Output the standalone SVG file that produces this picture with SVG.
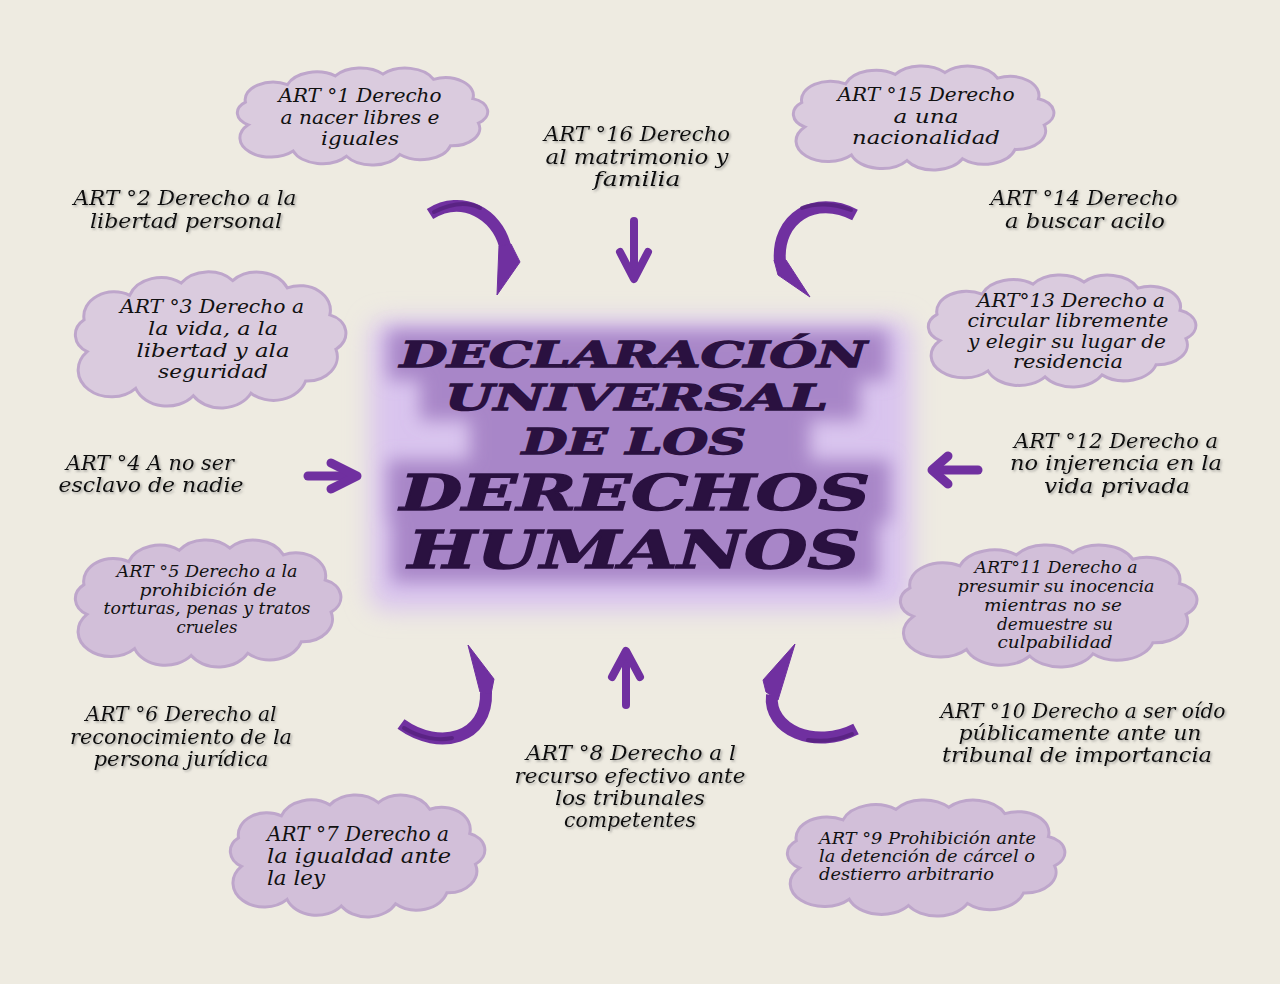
<svg xmlns="http://www.w3.org/2000/svg" xmlns:xlink="http://www.w3.org/1999/xlink" width="1280" height="984" viewBox="0 0 1280 984">
<style>
  .bg { fill: #eeebe1; }
  .cloud { fill: #dacbde; stroke: #bea6cb; stroke-width: 3; }
  .cloud.deep { fill: #d2bfd9; }
  .lbl { font-family: "DejaVu Serif", "Liberation Serif", serif; font-style: italic; font-size: 20px; fill: #111; text-anchor: middle; }
  .lbl.sm { font-size: 17px; }
  .lbl.md { font-size: 18.5px; }
  .lbl.start { text-anchor: start; }
  .shadow { filter: url(#txtShadow); }
  .title { font-family: "DejaVu Serif", "Liberation Serif", serif; font-style: italic; font-weight: bold; fill: #2a1140; stroke: #2a1140; stroke-width: 1.4; }
  .arr { fill: none; stroke: #7030a0; stroke-linecap: round; stroke-linejoin: round; }
  .band { fill: none; stroke: #7030a0; stroke-width: 12; stroke-linecap: butt; }
  .stripe { fill: none; stroke: #55207d; stroke-width: 4; stroke-linecap: round; opacity: 0.8; }
  .head { fill: #7030a0; stroke: #7030a0; stroke-width: 1; stroke-linejoin: round; }
</style>
<defs>
  <path id="cloud" vector-effect="non-scaling-stroke" d="M 20,66 A 16,16 0 0 1 18,40 A 20,20 0 0 1 48,20 A 22,22 0 0 1 82,10 A 22,22 0 0 1 116,8 A 22,22 0 0 1 152,14 A 20,20 0 0 1 180,36 A 16,16 0 0 1 184,64 A 20,20 0 0 1 164,90 A 22,22 0 0 1 128,100 A 22,22 0 0 1 90,102 A 22,22 0 0 1 52,96 A 20,20 0 0 1 20,66 Z"/>
  <filter id="txtShadow" x="-10%" y="-30%" width="120%" height="160%">
    <feDropShadow dx="1.5" dy="1.5" stdDeviation="1" flood-color="#666" flood-opacity="0.55"/>
  </filter>
  <filter id="blurBig" x="-20%" y="-20%" width="140%" height="140%">
    <feGaussianBlur stdDeviation="12"/>
  </filter>
  <filter id="blurMid" x="-20%" y="-30%" width="140%" height="160%">
    <feGaussianBlur stdDeviation="9"/>
  </filter>
</defs>

<rect class="bg" x="0" y="0" width="1280" height="984"/>

<g id="node-title">
  <rect x="370" y="320" width="542" height="290" rx="16" fill="#d9c4ee" filter="url(#blurBig)"/>
  <g fill="#a886c8" filter="url(#blurMid)">
    <rect x="388" y="330" width="500" height="50"/>
    <rect x="420" y="372" width="440" height="48"/>
    <rect x="470" y="414" width="340" height="50"/>
    <rect x="388" y="460" width="502" height="62"/>
    <rect x="392" y="516" width="486" height="66"/>
  </g>
  <text class="title" x="400" y="367" font-size="35" textLength="467" lengthAdjust="spacingAndGlyphs">DECLARACIÓN</text>
  <text class="title" x="445" y="410" font-size="35" textLength="383" lengthAdjust="spacingAndGlyphs">UNIVERSAL</text>
  <text class="title" x="522" y="454" font-size="35" textLength="224" lengthAdjust="spacingAndGlyphs">DE LOS</text>
  <text class="title" x="400" y="510" font-size="48" textLength="470" lengthAdjust="spacingAndGlyphs">DERECHOS</text>
  <text class="title" x="408" y="568" font-size="52" textLength="452" lengthAdjust="spacingAndGlyphs">HUMANOS</text>
</g>

<g id="connectors">
  <line class="arr" x1="634" y1="221" x2="634" y2="274" stroke-width="8" stroke-linecap="butt"/>
  <polyline class="arr" points="620,252 634,279 648,252" stroke-width="8"/>
  <line class="arr" x1="626" y1="705" x2="626" y2="656" stroke-width="8" stroke-linecap="butt"/>
  <polyline class="arr" points="612,677 626,651 640,677" stroke-width="8"/>
  <line class="arr" x1="308" y1="476" x2="352" y2="476" stroke-width="9" stroke-linecap="butt"/>
  <polyline class="arr" points="331,463 357,476 331,489" stroke-width="9"/>
  <line class="arr" x1="978" y1="470" x2="936" y2="470" stroke-width="9" stroke-linecap="butt"/>
  <polyline class="arr" points="948,456 932,470 948,484" stroke-width="9"/>

  <path class="band" d="M 430,214 C 462,194 497,214 505,246"/>
  <path class="stripe" d="M 434,212 C 452,203 468,202 480,208"/>
  <polygon class="head" points="499,246 511,244 520,262 497,295"/>

  <path class="band" d="M 855,215 C 815,194 776,218 780,262"/>
  <path class="stripe" d="M 851,210 C 833,203 815,203 802,208"/>
  <polygon class="head" points="774,260 786,260 810,297 778,275"/>

  <path class="band" d="M 401,724 C 440,752 488,738 486,692"/>
  <path class="stripe" d="M 404,728 C 420,738 438,741 452,738"/>
  <polygon class="head" points="468,645 494,679 491,694 480,692"/>

  <path class="band" d="M 856,729 C 815,750 768,730 772,695"/>
  <path class="stripe" d="M 852,734 C 838,740 822,742 808,740"/>
  <polygon class="head" points="795,644 778,700 766,692 763,680"/>
</g>

<g id="node-art1">
  <use href="#cloud" class="cloud" transform="translate(237,68) scale(1.404,0.874) translate(-12,-1)"/>
  <text class="lbl md" x="360" y="102" textLength="163" lengthAdjust="spacingAndGlyphs">ART °1 Derecho</text>
  <text class="lbl md" x="360" y="124" textLength="159" lengthAdjust="spacingAndGlyphs">a nacer libres e</text>
  <text class="lbl md" x="360" y="145" textLength="78" lengthAdjust="spacingAndGlyphs">iguales</text>
</g>

<g id="node-art16" class="shadow">
  <text class="lbl" x="637" y="141" textLength="186" lengthAdjust="spacingAndGlyphs">ART °16 Derecho</text>
  <text class="lbl" x="637" y="164" textLength="183" lengthAdjust="spacingAndGlyphs">al matrimonio y</text>
  <text class="lbl" x="637" y="186" textLength="87" lengthAdjust="spacingAndGlyphs">familia</text>
</g>

<g id="node-art15">
  <use href="#cloud" class="cloud" transform="translate(793,66) scale(1.461,0.937) translate(-12,-1)"/>
  <text class="lbl md" x="926" y="101" textLength="177" lengthAdjust="spacingAndGlyphs">ART °15 Derecho</text>
  <text class="lbl md" x="926" y="123" textLength="65" lengthAdjust="spacingAndGlyphs">a una</text>
  <text class="lbl md" x="926" y="144" textLength="148" lengthAdjust="spacingAndGlyphs">nacionalidad</text>
</g>

<g id="node-art2" class="shadow">
  <text class="lbl" x="185" y="205" textLength="223" lengthAdjust="spacingAndGlyphs">ART °2 Derecho a la</text>
  <text class="lbl" x="186" y="228" textLength="192" lengthAdjust="spacingAndGlyphs">libertad personal</text>
</g>

<g id="node-art14" class="shadow">
  <text class="lbl" x="1084" y="205" textLength="187" lengthAdjust="spacingAndGlyphs">ART °14 Derecho</text>
  <text class="lbl" x="1085" y="228" textLength="160" lengthAdjust="spacingAndGlyphs">a buscar acilo</text>
</g>

<g id="node-art3">
  <use href="#cloud" class="cloud" transform="translate(75,272) scale(1.517,1.225) translate(-12,-1)"/>
  <text class="lbl md" x="212" y="313" textLength="184" lengthAdjust="spacingAndGlyphs">ART °3 Derecho a</text>
  <text class="lbl md" x="213" y="335" textLength="130" lengthAdjust="spacingAndGlyphs">la vida, a la</text>
  <text class="lbl md" x="213" y="357" textLength="153" lengthAdjust="spacingAndGlyphs">libertad y ala</text>
  <text class="lbl md" x="213" y="378" textLength="110" lengthAdjust="spacingAndGlyphs">seguridad</text>
</g>

<g id="node-art13">
  <use href="#cloud" class="cloud" transform="translate(928,275) scale(1.5,1.009) translate(-12,-1)"/>
  <text class="lbl md" x="1071" y="307" textLength="188" lengthAdjust="spacingAndGlyphs">ART°13 Derecho a</text>
  <text class="lbl md" x="1068" y="327" textLength="201" lengthAdjust="spacingAndGlyphs">circular libremente</text>
  <text class="lbl md" x="1067" y="348" textLength="198" lengthAdjust="spacingAndGlyphs">y elegir su lugar de</text>
  <text class="lbl md" x="1068" y="368" textLength="110" lengthAdjust="spacingAndGlyphs">residencia</text>
</g>

<g id="node-art12" class="shadow">
  <text class="lbl" x="1116" y="448" textLength="204" lengthAdjust="spacingAndGlyphs">ART °12 Derecho a</text>
  <text class="lbl" x="1116" y="470" textLength="212" lengthAdjust="spacingAndGlyphs">no injerencia en la</text>
  <text class="lbl" x="1117" y="493" textLength="146" lengthAdjust="spacingAndGlyphs">vida privada</text>
</g>

<g id="node-art4" class="shadow">
  <text class="lbl" x="150" y="470" textLength="168" lengthAdjust="spacingAndGlyphs">ART °4 A no ser</text>
  <text class="lbl" x="151" y="492" textLength="185" lengthAdjust="spacingAndGlyphs">esclavo de nadie</text>
</g>

<g id="node-art5">
  <use href="#cloud" class="cloud deep" transform="translate(75,540) scale(1.489,1.144) translate(-12,-1)"/>
  <text class="lbl sm" x="207" y="577" textLength="181" lengthAdjust="spacingAndGlyphs">ART °5 Derecho a la</text>
  <text class="lbl sm" x="208" y="596" textLength="137" lengthAdjust="spacingAndGlyphs">prohibición de</text>
  <text class="lbl sm" x="207" y="614" textLength="207" lengthAdjust="spacingAndGlyphs">torturas, penas y tratos</text>
  <text class="lbl sm" x="207" y="633" textLength="61" lengthAdjust="spacingAndGlyphs">crueles</text>
</g>

<g id="node-art11">
  <use href="#cloud" class="cloud deep" transform="translate(900,545) scale(1.663,1.099) translate(-12,-1)"/>
  <text class="lbl sm" x="1056" y="573" textLength="163" lengthAdjust="spacingAndGlyphs">ART°11 Derecho a</text>
  <text class="lbl sm" x="1056" y="592" textLength="197" lengthAdjust="spacingAndGlyphs">presumir su inocencia</text>
  <text class="lbl sm" x="1053" y="611" textLength="138" lengthAdjust="spacingAndGlyphs">mientras no se</text>
  <text class="lbl sm" x="1055" y="630" textLength="116" lengthAdjust="spacingAndGlyphs">demuestre su</text>
  <text class="lbl sm" x="1055" y="648" textLength="115" lengthAdjust="spacingAndGlyphs">culpabilidad</text>
</g>

<g id="node-art10" class="shadow">
  <text class="lbl" x="1083" y="718" textLength="285" lengthAdjust="spacingAndGlyphs">ART °10 Derecho a ser oído</text>
  <text class="lbl" x="1080" y="740" textLength="243" lengthAdjust="spacingAndGlyphs">públicamente ante un</text>
  <text class="lbl" x="1077" y="762" textLength="270" lengthAdjust="spacingAndGlyphs">tribunal de importancia</text>
</g>

<g id="node-art6" class="shadow">
  <text class="lbl" x="181" y="721" textLength="191" lengthAdjust="spacingAndGlyphs">ART °6 Derecho al</text>
  <text class="lbl" x="181" y="744" textLength="222" lengthAdjust="spacingAndGlyphs">reconocimiento de la</text>
  <text class="lbl" x="181" y="766" textLength="175" lengthAdjust="spacingAndGlyphs">persona jurídica</text>
</g>

<g id="node-art8" class="shadow">
  <text class="lbl" x="631" y="760" textLength="210" lengthAdjust="spacingAndGlyphs">ART °8 Derecho a l</text>
  <text class="lbl" x="630" y="783" textLength="231" lengthAdjust="spacingAndGlyphs">recurso efectivo ante</text>
  <text class="lbl" x="630" y="805" textLength="150" lengthAdjust="spacingAndGlyphs">los tribunales</text>
  <text class="lbl" x="630" y="827" textLength="132" lengthAdjust="spacingAndGlyphs">competentes</text>
</g>

<g id="node-art7">
  <use href="#cloud" class="cloud deep" transform="translate(230,795) scale(1.427,1.099) translate(-12,-1)"/>
  <text class="lbl start" x="267" y="841" textLength="182" lengthAdjust="spacingAndGlyphs">ART °7 Derecho a</text>
  <text class="lbl start" x="267" y="863" textLength="184" lengthAdjust="spacingAndGlyphs">la igualdad ante</text>
  <text class="lbl start" x="267" y="885" textLength="58" lengthAdjust="spacingAndGlyphs">la ley</text>
</g>

<g id="node-art9">
  <use href="#cloud" class="cloud deep" transform="translate(787,800) scale(1.556,1.045) translate(-12,-1)"/>
  <text class="lbl sm start" x="819" y="844" textLength="217" lengthAdjust="spacingAndGlyphs">ART °9 Prohibición ante</text>
  <text class="lbl sm start" x="819" y="862" textLength="216" lengthAdjust="spacingAndGlyphs">la detención de cárcel o</text>
  <text class="lbl sm start" x="819" y="880" textLength="175" lengthAdjust="spacingAndGlyphs">destierro arbitrario</text>
</g>
</svg>
